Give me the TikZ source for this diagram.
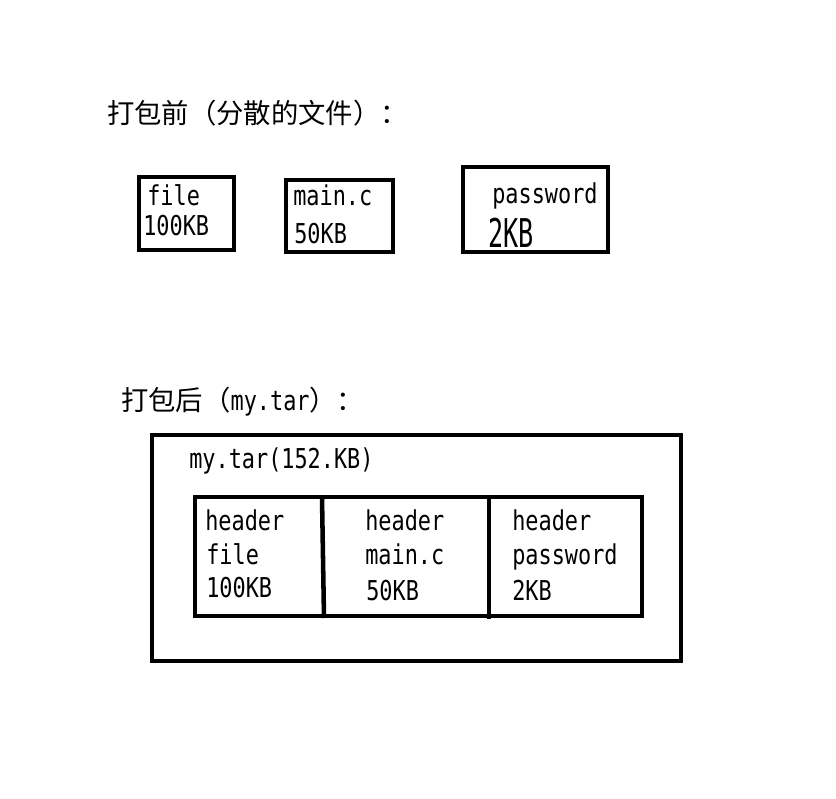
\documentclass[tikz,border=0pt]{standalone}
\usepackage{fontspec}
\usepackage{graphicx}
\newfontfamily\cjkfont{Noto Sans CJK SC}
\newfontfamily\monofont[FakeStretch=0.8]{DejaVu Sans Mono}
\begin{document}
\begin{tikzpicture}[x=0.75pt,y=-0.75pt,
  box/.style={draw, line width=3.4pt, inner sep=0pt, outer sep=0pt, anchor=north west},
  lbl/.style={anchor=base west, inner sep=0pt, font=\monofont\fontsize{20.5}{20.5}\selectfont},
  head/.style={anchor=base west, inner sep=0pt, font=\cjkfont\fontsize{20.5}{20.5}\selectfont},
  divider/.style={line width=3.4pt}]
\useasboundingbox[fill=white] (0,0) rectangle (836,799);
% heading 1
\node[head] (h1) at (107,123) {打包前（分散的文件）：};
% separate file boxes
\node[box, minimum width=71.25pt, minimum height=54.75pt] (b1) at (139,177) {};
\node[lbl] (b1a) at (147,205) {file};
\node[lbl] (b1b) at (143,235) {100KB};
\node[box, minimum width=80.25pt, minimum height=54pt] (b2) at (286,180) {};
\node[lbl] (b2a) at (293,205) {main.c};
\node[lbl] (b2b) at (294,243) {50KB};
\node[box, minimum width=108.75pt, minimum height=63.75pt] (b3) at (463,167) {};
\node[lbl] (b3a) at (492,203) {password};
\node[lbl] (b3b) at (488,247) {\scalebox{1.15}[1.45]{2KB}};
% heading 2
\node[head] (h2) at (121,410) {打包后（{\monofont my.tar}）：};
% tar archive
\node[box, minimum width=396.75pt, minimum height=169.5pt] (outer) at (152,435) {};
\node[lbl] (tarname) at (189,468) {my.tar(152.KB)};
\node[box, minimum width=335.25pt, minimum height=89.25pt] (inner) at (195,497) {};
\coordinate (d1t) at (322,497);
\coordinate (d1b) at (324,618);
\coordinate (d2t) at (489,495);
\coordinate (d2b) at (489,619);
\draw[divider] (d1t) -- (d1b);
\draw[divider] (d2t) -- (d2b);
\node[lbl] (c1a) at (205,530) {header};
\node[lbl] (c1b) at (206,564) {file};
\node[lbl] (c1c) at (206,597) {100KB};
\node[lbl] (c2a) at (365,530) {header};
\node[lbl] (c2b) at (365,564) {main.c};
\node[lbl] (c2c) at (366,600) {50KB};
\node[lbl] (c3a) at (512,530) {header};
\node[lbl] (c3b) at (512,564) {password};
\node[lbl] (c3c) at (512,600) {2KB};
\end{tikzpicture}
\end{document}
